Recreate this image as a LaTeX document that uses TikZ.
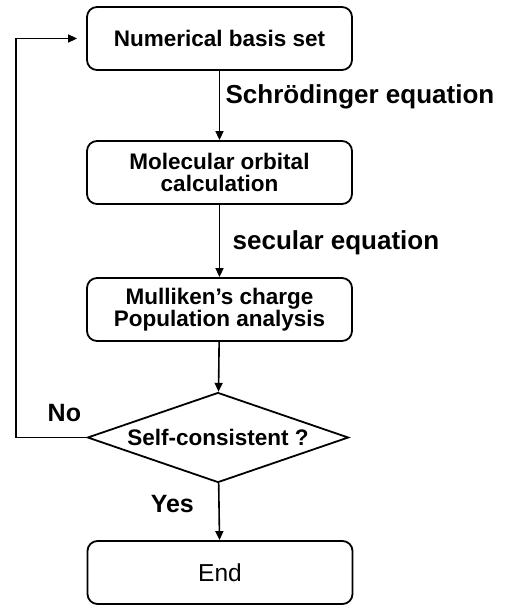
\documentclass[tikz,border=0pt]{standalone}
\usepackage{fontspec}
\setmainfont{Liberation Sans}
\usetikzlibrary{positioning,shapes.geometric,arrows.meta}
\begin{document}
\begin{tikzpicture}[x=1pt,y=-1pt,
  stepbox/.style={draw,line width=1.8pt,rounded corners=10pt,minimum width=265pt,minimum height=63pt,inner sep=0pt,align=center,font=\fontsize{22.5}{21.5}\selectfont\bfseries},
  decision/.style={draw,diamond,line width=1.8pt,minimum width=261pt,minimum height=90pt,aspect=2.9,inner sep=0pt,font=\fontsize{22.5}{21.5}\selectfont\bfseries},
  flow/.style={line width=1.6pt,-{Triangle[length=9pt,width=8pt]}},
  lbl/.style={font=\fontsize{26}{28}\selectfont\bfseries}]
\useasboundingbox (0,0) rectangle (506,605);
\node[stepbox] (basis) at (219.5,38.5) {Numerical basis set};
\node[stepbox] (orbital) at (219.5,172.5) {Molecular orbital\\calculation};
\node[stepbox] (mulliken) at (219.5,309.5) {Mulliken's charge\\Population analysis};
\node[decision] (selfcons) at (218,437.5) {Self-consistent ?};
\node[stepbox,font=\fontsize{24.5}{26}\selectfont] (finish) at (220,572.5) {End};
\coordinate (bend) at (16,437.5);
\draw[flow] (basis) -- node[lbl,anchor=west,pos=0.38,xshift=2pt] {Schrödinger equation} (orbital);
\draw[flow] (orbital) -- node[lbl,anchor=west,pos=0.53,xshift=9pt] {secular equation} (mulliken);
\draw[flow] (mulliken) -- (selfcons);
\draw[flow] (selfcons) -- node[lbl,font=\fontsize{25}{27}\selectfont\bfseries,anchor=east,pos=0.37,xshift=-21pt] {Yes} (finish);
\draw[flow] (selfcons.west) -- (bend) |- ([xshift=-9pt]basis.west);
\node[lbl,font=\fontsize{25}{27}\selectfont\bfseries,above left=12pt and 2pt of selfcons.west] (no) {No};
\end{tikzpicture}
\end{document}
